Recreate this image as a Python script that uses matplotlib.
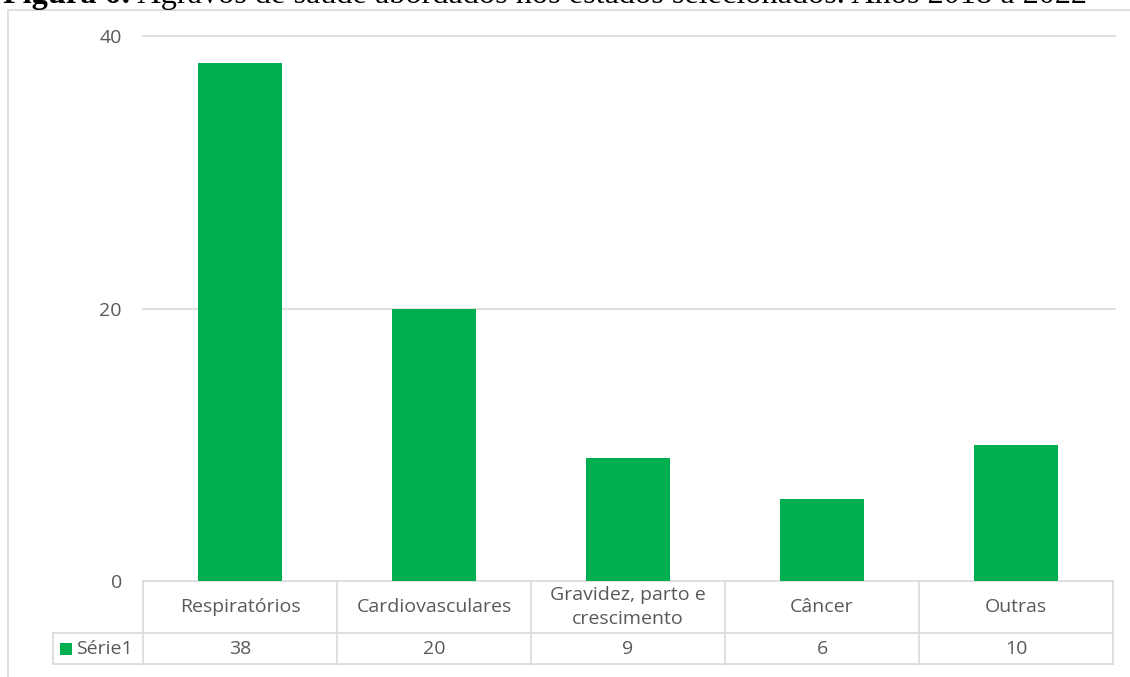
import matplotlib
matplotlib.use("Agg")
import matplotlib.pyplot as plt
from matplotlib.patches import Rectangle

categories = ["Respiratórios", "Cardiovasculares", "Gravidez, parto e\ncrescimento", "Câncer", "Outras"]
values = [38, 20, 9, 6, 10]
series_name = "Série1"
yticks = [0, 20, 40]
title_bold = "Figura 6:"
title_rest = " Agravos de saúde abordados nos estados selecionados. Anos 2018 a 2022"

W, H = 1130, 677
GREEN = "#00B050"
GRID = "#D9D9D9"
TXT = "#595959"
FONT = ["Open Sans", "DejaVu Sans"]
FS = 14

fig = plt.figure(figsize=(W / 100, H / 100), dpi=100)

# outer chart frame
fig.patches.append(Rectangle((8 / W, -0.05), 1.2, (677 - 10) / H + 0.05, transform=fig.transFigure,
                             fill=False, edgecolor=GRID, lw=1.2))

# title (partly cut off at top, as in the reference)
ty = 1 - 3 / H
t1 = fig.text(3 / W, ty, title_bold, fontsize=23.2, fontweight="bold",
              family=["Liberation Serif"], va="baseline", ha="left")
fig.canvas.draw()
bb = t1.get_window_extent()
fig.text(bb.x1 / W, ty, title_rest, fontsize=23.2, family=["Liberation Serif"],
         va="baseline", ha="left")

left, right = 143 / W, 1113 / W
bottom, top = (H - 581) / H, (H - 36) / H
ax = fig.add_axes([left, bottom, right - left, top - bottom])
n = len(categories)
x = list(range(n))
ax.bar(x, values, width=0.435, color=GREEN, zorder=3)
ax.set_xlim(-0.5, n - 0.5)
ax.set_ylim(0, 40)
ax.set_yticks(yticks)
ax.set_yticklabels([str(v) for v in yticks], fontsize=FS, color=TXT, family=FONT)
ax.tick_params(axis="y", length=0, pad=21 * 0.72)
ax.set_xticks([])
for s in ax.spines.values():
    s.set_visible(False)
for v in yticks[1:]:
    ax.plot([-0.5, n - 0.5 + 0.01], [v, v], color=GRID, lw=1.2, zorder=1, clip_on=False)

# data table
axh = 545.0
r1 = -52 / axh
r2 = -83 / axh
legx = -0.5 - 90 / 194
tr = ax.get_xaxis_transform()
lk = dict(color=GRID, lw=1.2, transform=tr, clip_on=False, zorder=2)
ax.plot([-0.5, n - 0.5], [0, 0], **lk)
ax.plot([legx, n - 0.5], [r1, r1], **lk)
ax.plot([legx, n - 0.5], [r2, r2], **lk)
for b in range(n + 1):
    ax.plot([b - 0.5, b - 0.5], [0, r2], **lk)
ax.plot([legx, legx], [r1, r2], **lk)

for i, (c, v) in enumerate(zip(categories, values)):
    ax.text(i, r1 / 2, c, transform=tr, ha="center", va="center", fontsize=FS,
            color=TXT, family=FONT, linespacing=1.45)
    ax.text(i, (r1 + r2) / 2, str(v), transform=tr, ha="center", va="center",
            fontsize=FS, color=TXT, family=FONT)

# legend key in table
ax.add_patch(Rectangle((legx + 7 / 194, (r1 + r2) / 2 - 6 / axh), 12 / 194, 12 / axh, transform=tr,
                       facecolor=GREEN, edgecolor="none", clip_on=False))
ax.text(legx + 23 / 194, (r1 + r2) / 2, series_name, transform=tr, ha="left", va="center",
        fontsize=FS, color=TXT, family=FONT)

fig.savefig("out.png", dpi=100)
